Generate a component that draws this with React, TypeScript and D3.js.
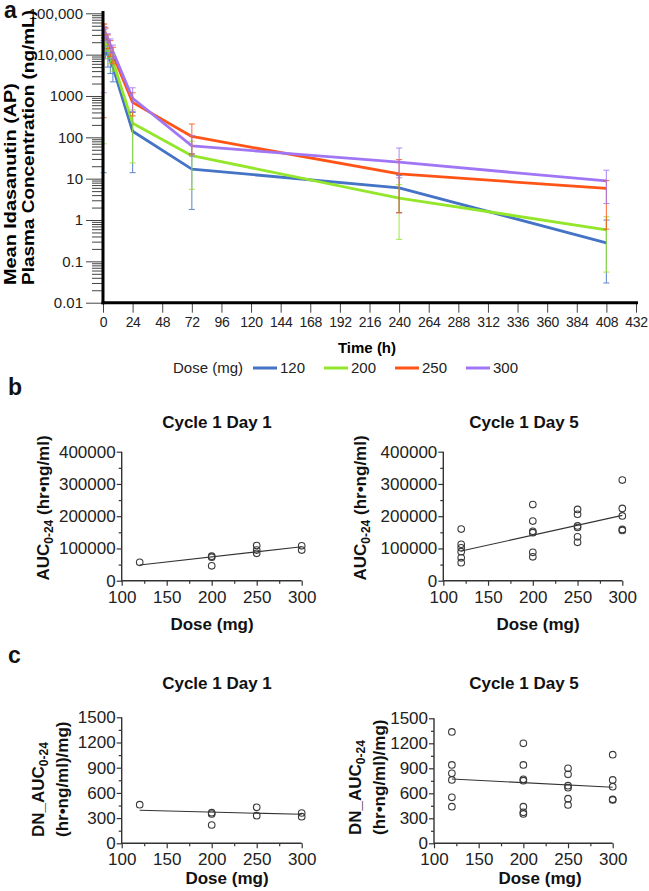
import { useEffect, useRef } from "react";
import * as d3 from "d3";

const W = 649;
const H = 891;
const FONT = "'Liberation Sans', Arial, Helvetica, sans-serif";

// ---- panel a: mean concentration vs time ----
const timePoints = [0.5, 1, 2, 4, 6, 8, 24, 72, 240, 408];
const doseGroups = ["120", "200", "250", "300"];
const doseColors = ["#4573C5", "#94E62B", "#FF5416", "#A176F4"];

const mean120 = [15000, 17000, 14000, 9500, 7000, 5000, 140, 17, 6, 0.28];
const mean200 = [22000, 24000, 19000, 13000, 9500, 7000, 220, 36, 3.4, 0.58];
const mean250 = [35000, 40000, 33000, 22000, 15000, 10000, 700, 105, 13, 5.8];
const mean300 = [30000, 38000, 32000, 24000, 17000, 12000, 880, 62, 25, 8.8];

const hi120 = [22000, 25000, 20000, 14000, 10000, 7500, 400, 40, 12, 1.0];
const lo120 = [14, 10000, 8000, 5000, 3500, 2200, 14, 1.8, 1.5, 0.03];
const hi200 = [30000, 32000, 26000, 18000, 13000, 10000, 460, 80, 7.2, 1.2];
const lo200 = [70, 16000, 12000, 8000, 6000, 4000, 24, 5.5, 0.34, 0.055];
const hi250 = [55000, 55000, 45000, 30000, 22000, 15000, 1200, 210, 29, 9];
const lo250 = [300, 26000, 22000, 14000, 9000, 6000, 330, 39, 1.5, 0.6];
const hi300 = [40000, 48000, 42000, 32000, 24000, 17000, 1580, 110, 55, 16];
const lo300 = [1200, 26000, 22000, 16000, 11000, 8000, 420, 35, 10.5, 2.5];

const concTicks = [0.01, 0.1, 1, 10, 100, 1000, 10000, 100000];
const concTickLabels = ["0.01", "0.1", "1", "10", "100", "1000", "10,000", "100,000"];
const timeTicks = [0, 24, 48, 72, 96, 120, 144, 168, 192, 216, 240, 264, 288, 312, 336, 360, 384, 408, 432];

// ---- panel b: AUC0-24 vs dose ----
const aucD1Dose = [120, 200, 200, 200, 250, 250, 250, 300, 300];
const aucD1 = [57000, 76000, 73000, 46000, 109000, 95000, 85000, 108000, 95000];
const aucD5Dose = [120, 120, 120, 120, 120, 120, 200, 200, 200, 200, 200, 200, 250, 250, 250, 250, 250, 250, 300, 300, 300, 300, 300];
const aucD5 = [160000, 113000, 102000, 90000, 71000, 56000, 236000, 185000, 153000, 149000, 88000, 74000, 221000, 206000, 170000, 165000, 136000, 119000, 312000, 224000, 201000, 159000, 156000];
const fitDoses = [120, 300];
const aucD1Fit = [48600, 105400];
const aucD5Fit = [92000, 202600];
const aucTicks = [0, 100000, 200000, 300000, 400000];
const aucMinor = [50000, 150000, 250000, 350000];

// ---- panel c: dose-normalised AUC vs dose ----
const dnD1Dose = [120, 200, 200, 200, 250, 250, 300, 300];
const dnD1 = [460, 365, 349, 218, 428, 329, 361, 317];
const dnD5Dose = [120, 120, 120, 120, 120, 120, 200, 200, 200, 200, 200, 200, 200, 250, 250, 250, 250, 250, 250, 300, 300, 300, 300, 300];
const dnD5 = [1336, 940, 840, 760, 552, 440, 1200, 940, 768, 752, 440, 372, 352, 900, 828, 692, 668, 536, 460, 1064, 760, 680, 528, 520];
const dnD1Fit = [393, 345];
const dnD5Fit = [772, 672];
const dnTicks = [0, 300, 600, 900, 1200, 1500];
const dnMinor = [150, 450, 750, 1050, 1350];

const doseTicks = [100, 150, 200, 250, 300];
const doseMinor = [125, 175, 225, 275];

type Sel = d3.Selection<SVGGElement, unknown, null, undefined>;

function drawPanelA(root: Sel) {
  const g = root.append("g");
  const x = d3.scaleLinear().domain([0, 432]).range([103, 636]);
  const y = d3.scaleLog().domain([0.01, 100000]).range([302.7, 13.3]);

  const minor: number[] = [];
  concTicks.slice(0, -1).forEach((d) => {
    for (let k = 2; k < 10; k++) minor.push(d * k);
  });

  const yMin = g
    .append("g")
    .attr("transform", `translate(${x(0)},0)`)
    .call(d3.axisLeft(y).tickValues(minor).tickSize(11).tickFormat(() => ""));
  yMin.select(".domain").remove();
  yMin.selectAll("line").attr("stroke", "#444").attr("stroke-width", 1);

  const yAx = g
    .append("g")
    .attr("transform", `translate(${x(0)},0)`)
    .call(
      d3
        .axisLeft(y)
        .tickValues(concTicks)
        .tickSize(17)
        .tickPadding(3)
        .tickFormat((_, i) => concTickLabels[i]),
    );
  yAx.select(".domain").remove();
  yAx.selectAll("line").attr("stroke", "#444").attr("stroke-width", 1);
  yAx
    .selectAll("text")
    .attr("font-size", 15)
    .attr("font-family", FONT)
    .attr("fill", "#222");

  const xAx = g
    .append("g")
    .attr("transform", `translate(0,${y(0.01)})`)
    .call(
      d3
        .axisBottom(x)
        .tickValues(timeTicks)
        .tickSize(10)
        .tickPadding(4)
        .tickFormat((d) => String(d)),
    );
  xAx.select(".domain").remove();
  xAx.selectAll("line").attr("stroke", "#444").attr("stroke-width", 1);
  xAx
    .selectAll("text")
    .attr("font-size", 14)
    .attr("letter-spacing", -0.3)
    .attr("font-family", FONT)
    .attr("fill", "#222");

  const series = [
    { mean: mean120, hi: hi120, lo: lo120 },
    { mean: mean200, hi: hi200, lo: lo200 },
    { mean: mean250, hi: hi250, lo: lo250 },
    { mean: mean300, hi: hi300, lo: lo300 },
  ];

  const line = d3
    .line<number>()
    .x((_, i) => x(timePoints[i]))
    .y((d) => y(d));

  series.forEach((s, si) => {
    g.append("path")
      .attr("d", line(s.mean))
      .attr("fill", "none")
      .attr("stroke", doseColors[si])
      .attr("stroke-width", 2.8)
      .attr("stroke-linejoin", "round");
  });

  series.forEach((s, si) => {
    const eb = g.append("g").attr("stroke", doseColors[si]).attr("stroke-width", 1.1).attr("opacity", 0.8);
    timePoints.forEach((t, i) => {
      const cx = x(t);
      eb.append("line").attr("x1", cx).attr("x2", cx).attr("y1", y(s.lo[i])).attr("y2", y(s.hi[i]));
      [s.lo[i], s.hi[i]].forEach((v) => {
        eb.append("line").attr("x1", cx - 3).attr("x2", cx + 3).attr("y1", y(v)).attr("y2", y(v));
      });
    });
  });

  // heavy axis lines
  g.append("line")
    .attr("x1", x(0)).attr("x2", x(0))
    .attr("y1", 11).attr("y2", y(0.01) + 1.5)
    .attr("stroke", "#000").attr("stroke-width", 3);
  g.append("line")
    .attr("x1", x(0) - 1.5).attr("x2", x(432) + 2)
    .attr("y1", y(0.01)).attr("y2", y(0.01))
    .attr("stroke", "#000").attr("stroke-width", 3);

  g.append("text")
    .attr("x", 367).attr("y", 353)
    .attr("text-anchor", "middle")
    .attr("font-family", FONT).attr("font-size", 15).attr("font-weight", "bold")
    .text("Time (h)");

  const yl = [
    { t: "Mean Idasanutin (AP)", x: 16, len: 202 },
    { t: "Plasma Concentration (ng/mL)", x: 34, len: 275 },
  ];
  yl.forEach((l) => {
    g.append("text")
      .attr("transform", `translate(${l.x},285) rotate(-90)`)
      .attr("font-family", FONT).attr("font-size", 16).attr("font-weight", "bold")
      .attr("textLength", l.len).attr("lengthAdjust", "spacingAndGlyphs")
      .text(l.t);
  });

  // legend
  const lg = g.append("g").attr("font-family", FONT).attr("font-size", 15).attr("fill", "#222");
  lg.append("text").attr("x", 173).attr("y", 373).text("Dose (mg)");
  doseGroups.forEach((d, i) => {
    const lx = 253 + i * 71;
    lg.append("line")
      .attr("x1", lx).attr("x2", lx + 24)
      .attr("y1", 368).attr("y2", 368)
      .attr("stroke", doseColors[i]).attr("stroke-width", 3);
    lg.append("text").attr("x", lx + 27).attr("y", 373).text(d);
  });
}

interface ScatterCfg {
  xRange: [number, number];
  yDomain: [number, number];
  yRange: [number, number];
  yTicks: number[];
  yMinor: number[];
  doses: number[];
  values: number[];
  fit: number[];
}

function drawScatter(root: Sel, c: ScatterCfg) {
  const g = root.append("g");
  const x = d3.scaleLinear().domain([100, 300]).range(c.xRange);
  const y = d3.scaleLinear().domain(c.yDomain).range(c.yRange);

  const styleAxis = (a: Sel) => {
    a.select(".domain").remove();
    a.selectAll("line").attr("stroke", "#333").attr("stroke-width", 1.2);
    a.selectAll("text").attr("font-size", 17).attr("font-family", FONT).attr("fill", "#222");
  };

  styleAxis(
    g.append("g").attr("transform", `translate(${c.xRange[0]},0)`)
      .call(d3.axisLeft(y).tickValues(c.yMinor).tickSize(3).tickFormat(() => "")),
  );
  styleAxis(
    g.append("g").attr("transform", `translate(${c.xRange[0]},0)`)
      .call(d3.axisLeft(y).tickValues(c.yTicks).tickSize(5).tickPadding(1).tickFormat((d) => String(d))),
  );
  styleAxis(
    g.append("g").attr("transform", `translate(0,${c.yRange[0]})`)
      .call(d3.axisBottom(x).tickValues(doseMinor).tickSize(3).tickFormat(() => "")),
  );
  styleAxis(
    g.append("g").attr("transform", `translate(0,${c.yRange[0]})`)
      .call(d3.axisBottom(x).tickValues(doseTicks).tickSize(5).tickPadding(5).tickFormat((d) => String(d))),
  );

  g.append("path")
    .attr("d", `M${c.xRange[0]},${c.yRange[1]}V${c.yRange[0]}H${c.xRange[1]}`)
    .attr("fill", "none")
    .attr("stroke", "#333")
    .attr("stroke-width", 1.4);

  g.append("line")
    .attr("x1", x(fitDoses[0])).attr("x2", x(fitDoses[1]))
    .attr("y1", y(c.fit[0])).attr("y2", y(c.fit[1]))
    .attr("stroke", "#333").attr("stroke-width", 1.1);

  g.selectAll("circle.pt")
    .data(c.values)
    .enter()
    .append("circle")
    .attr("class", "pt")
    .attr("cx", (_, i) => x(c.doses[i]))
    .attr("cy", (d) => y(d))
    .attr("r", 3.3)
    .attr("fill", "none")
    .attr("stroke", "#3a3a3a")
    .attr("stroke-width", 1.1);
}

function boldText(root: Sel, x: number, y: number, t: string, anchor = "middle", size = 17) {
  return root
    .append("text")
    .attr("x", x).attr("y", y)
    .attr("text-anchor", anchor)
    .attr("font-family", FONT).attr("font-size", size).attr("font-weight", "bold")
    .attr("fill", "#111")
    .text(t);
}

function subLabel(root: Sel, x: number, y: number, anchor: string, pre: string, post: string) {
  const t = root
    .append("text")
    .attr("transform", `translate(${x},${y}) rotate(-90)`)
    .attr("text-anchor", anchor)
    .attr("font-family", FONT).attr("font-size", 17).attr("font-weight", "bold")
    .attr("fill", "#111");
  t.append("tspan").text(pre);
  t.append("tspan").attr("font-size", 12).attr("dy", 4).text("0-24");
  t.append("tspan").attr("dy", -4).text(post);
}

function rotText(root: Sel, x: number, y: number, anchor: string, s: string) {
  root
    .append("text")
    .attr("transform", `translate(${x},${y}) rotate(-90)`)
    .attr("text-anchor", anchor)
    .attr("font-family", FONT).attr("font-size", 17).attr("font-weight", "bold")
    .attr("fill", "#111")
    .text(s);
}

export default function App() {
  const svgRef = useRef<SVGSVGElement>(null);

  useEffect(() => {
    if (!svgRef.current) return;
    const svg = d3.select(svgRef.current);
    svg.selectAll("*").remove();
    const root = svg.append("g") as unknown as Sel;
    root.append("rect").attr("width", W).attr("height", H).attr("fill", "#fff");

    drawPanelA(root);

    drawScatter(root, {
      xRange: [121.7, 301.7], yDomain: [0, 400000], yRange: [580.7, 451.7],
      yTicks: aucTicks, yMinor: aucMinor, doses: aucD1Dose, values: aucD1, fit: aucD1Fit,
    });
    drawScatter(root, {
      xRange: [443.3, 622.3], yDomain: [0, 400000], yRange: [580.7, 451.7],
      yTicks: aucTicks, yMinor: aucMinor, doses: aucD5Dose, values: aucD5, fit: aucD5Fit,
    });
    drawScatter(root, {
      xRange: [121.7, 301.7], yDomain: [0, 1500], yRange: [843.3, 717.3],
      yTicks: dnTicks, yMinor: dnMinor, doses: dnD1Dose, values: dnD1, fit: dnD1Fit,
    });
    drawScatter(root, {
      xRange: [434, 612.7], yDomain: [0, 1500], yRange: [843.3, 718.3],
      yTicks: dnTicks, yMinor: dnMinor, doses: dnD5Dose, values: dnD5, fit: dnD5Fit,
    });

    // panel letters
    boldText(root, 4, 18, "a", "start", 23);
    boldText(root, 8, 395, "b", "start", 23);
    boldText(root, 8, 663, "c", "start", 23);

    // titles
    boldText(root, 217, 428, "Cycle 1 Day 1");
    boldText(root, 524, 428, "Cycle 1 Day 5");
    boldText(root, 217, 689, "Cycle 1 Day 1");
    boldText(root, 524, 689, "Cycle 1 Day 5");

    // x labels
    boldText(root, 212, 630, "Dose (mg)");
    boldText(root, 538, 630, "Dose (mg)");
    boldText(root, 227, 884, "Dose (mg)");
    boldText(root, 540, 884, "Dose (mg)");

    // y labels
    subLabel(root, 49, 508, "middle", "AUC", " (hr•ng/ml)");
    subLabel(root, 366, 508, "middle", "AUC", " (hr•ng/ml)");
    subLabel(root, 44, 837, "start", "DN_AUC", "");
    rotText(root, 68, 837, "start", "(hr•ng/ml)/mg)");
    subLabel(root, 361, 835, "start", "DN_AUC", "");
    rotText(root, 385, 835, "start", "(hr•ng/ml)/mg)");
  }, []);

  return (
    <div style={{ position: "absolute", left: 0, top: 0 }}>
      <svg ref={svgRef} width={W} height={H} style={{ display: "block" }} />
    </div>
  );
}
